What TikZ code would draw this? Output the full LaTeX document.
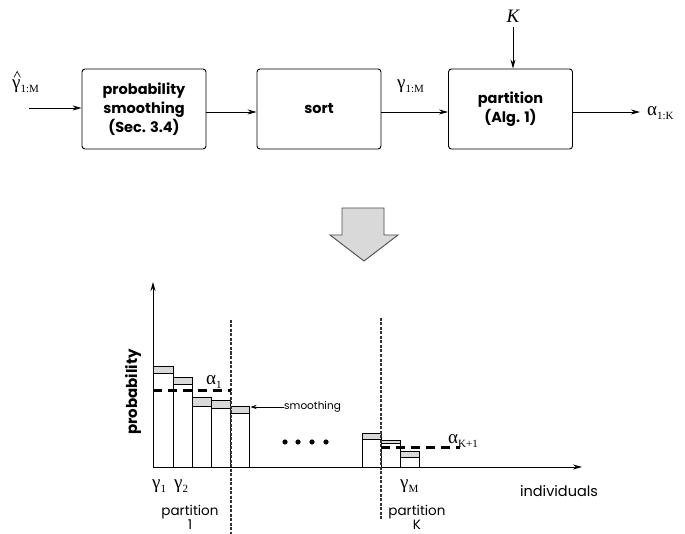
\documentclass[tikz,border=0pt]{standalone}
\usepackage{fontspec}
\setmainfont{Liberation Serif}
\setsansfont{Poppins}
\usetikzlibrary{arrows.meta}
\newcommand\grk[1]{{\fontsize{19}{19}\selectfont #1}}
\newcommand\sbs[1]{\raisebox{-4pt}{\fontsize{11}{11}\selectfont #1}}
\tikzset{
  blk/.style={draw, rounded corners=3pt, line width=0.9pt, minimum width=124pt, minimum height=80pt, align=center,
    font=\sffamily\bfseries\fontsize{14.5}{19}\selectfont},
  arr/.style={-{Stealth[length=9pt,width=5pt]}, line width=0.8pt},
  sarr/.style={-{Stealth[length=6pt,width=4pt]}, line width=0.6pt},
  barbox/.style={draw, line width=0.8pt, fill=white},
  capbox/.style={draw, line width=0.8pt, fill=black!15},
  vdash/.style={draw=black!80, line width=1.1pt, dash pattern=on 3pt off 1.5pt},
  adash/.style={line width=3pt, dash pattern=on 9pt off 6pt},
  lbl/.style={font=\sffamily\fontsize{13.5}{13.5}\selectfont, inner sep=0pt},
  glbl/.style={inner sep=0pt, anchor=base west}
}
\begin{document}
\begin{tikzpicture}[x=1pt,y=-1pt]
\useasboundingbox (0,0) rectangle (685,534);
% top blocks
\node[blk] (b1) at (144,109) {probability\\smoothing\\(Sec. 3.4)};
\node[blk] (b2) at (319,109) {sort};
\node[blk] (b3) at (510.5,109) {partition\\(Alg. 1)};
\coordinate (in) at (29,108);
\coordinate (out) at (640,112);
\draw[arr] (in) -- (b1.west |- in);
\draw[arr] (b1.east |- 0,112) -- (b2.west |- 0,112);
\draw[arr] (b2.east |- 0,112) -- (b3.west |- 0,112);
\draw[arr] (b3.east |- 0,112) -- (out);
\node[inner sep=0pt] (K) at (513,16) {\fontsize{19}{19}\selectfont\itshape K};
\draw[arr] (K.south |- 0,27) -- (b3.north -| K.south);
\node[glbl] (ghat) at (12,89) {\grk{γ}\sbs{1:M}};
\draw[line width=0.6pt] (14,77.5) -- (17.2,71.5) -- (20.4,77.5);
\node[glbl] (g) at (397,89) {\grk{γ}\sbs{1:M}};
\node[glbl] (a) at (647,116) {\grk{α}\sbs{1:K}};
% big arrow
\draw[draw=black!70, fill=black!15, line width=0.9pt] (342,208) -- (384,208) -- (384,235) -- (398,235) -- (364,261) -- (330,235) -- (342,235) -- cycle;
% axes
\coordinate (O) at (153,467);
\coordinate (ytop) at (153,282);
\coordinate (xend) at (582,467);
% bars
\foreach \xa/\xb/\t/\g in {153/173/366/373, 173/192/377/384, 192/211/397/406, 211/230/400/408, 230/249/406/413, 362/381/433/439, 381/400/440/443, 400/419/451/457}{
  \draw[barbox] (\xa,467) rectangle (\xb,\g);
  \draw[capbox] (\xa,\g) rectangle (\xb,\t);
}
\draw[arr, line width=0.9pt] (O) -- (ytop);
\draw[arr, line width=0.9pt] (O) -- (xend);
% partition lines
\draw[vdash] (231,320) -- (231,534);
\draw[vdash] (381,318) -- (381,520);
% alpha levels
\draw[adash] (153,390) -- (231,390);
\draw[adash] (381,447) -- (460,447);
\node[glbl] (a1) at (206,384) {\grk{α}\sbs{1}};
\node[glbl] (aK) at (448,443) {\grk{α}\sbs{K+1}};
% smoothing
\node[lbl, font=\sffamily\fontsize{10.5}{10.5}\selectfont, anchor=west] (sm) at (284,407) {smoothing};
\draw[sarr] (sm.west) -- (250.5,407);
% dots
\foreach \x in {285,298,312,326} \fill (\x,442) circle (2.6pt);
% labels
\node[lbl, font=\sffamily\bfseries\fontsize{15}{15}\selectfont, rotate=90] (plab) at (133,392) {probability};
\node[glbl] (g1) at (152,488) {\grk{γ}\sbs{1}};
\node[glbl] (g2) at (174,488) {\grk{γ}\sbs{2}};
\node[glbl] (gM) at (400,488) {\grk{γ}\sbs{M}};
\node[lbl, font=\sffamily\fontsize{14.5}{14.5}\selectfont] (ind) at (559,491) {individuals};
\node[lbl, align=center, font=\sffamily\fontsize{13.5}{12.5}\selectfont] (p1) at (190,517) {partition\\1};
\node[lbl, align=center, font=\sffamily\fontsize{13.5}{12.5}\selectfont] (pK) at (417,517) {partition\\K};
\end{tikzpicture}
\end{document}
